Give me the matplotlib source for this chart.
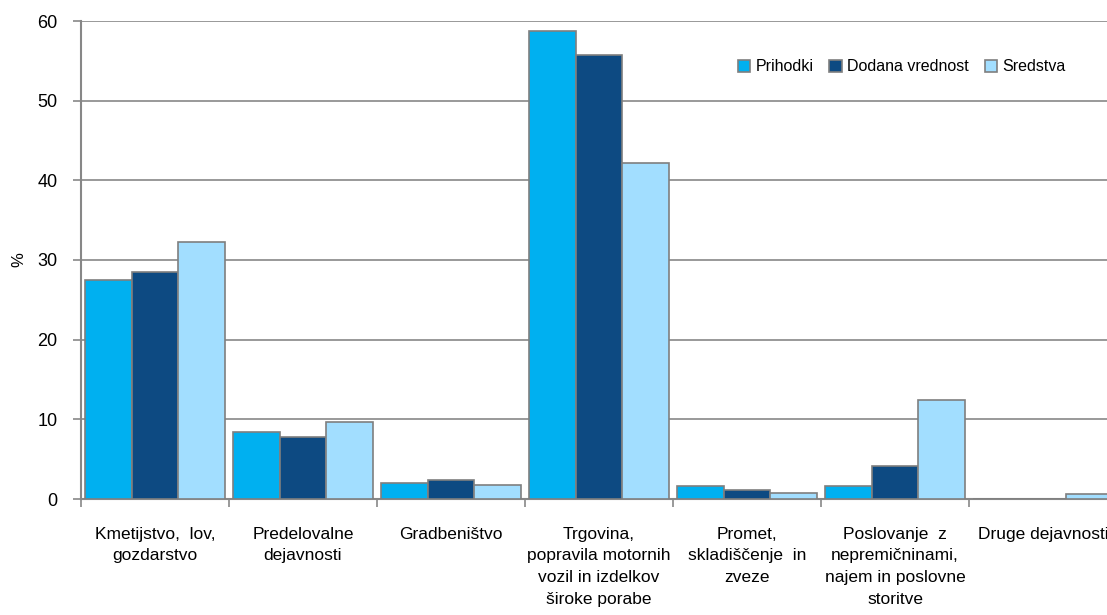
import numpy as np
import matplotlib
matplotlib.use("Agg")
import matplotlib.pyplot as plt

plt.rcParams["font.family"] = ["Liberation Sans", "DejaVu Sans"]

categories = [
    "Kmetijstvo,  lov,\ngozdarstvo",
    "Predelovalne\ndejavnosti",
    "Gradbeništvo",
    "Trgovina,\npopravila motornih\nvozil in izdelkov\nširoke porabe",
    "Promet,\nskladiščenje  in\nzveze",
    "Poslovanje  z\nnepremičninami,\nnajem in poslovne\nstoritve",
    "Druge dejavnosti",
]
prihodki = [27.5, 8.4, 2.0, 58.7, 1.6, 1.6, 0.0]
dodana = [28.5, 7.8, 2.4, 55.7, 1.1, 4.1, 0.0]
sredstva = [32.3, 9.7, 1.8, 42.2, 0.8, 12.4, 0.6]
series = [("Prihodki", prihodki, "#00B0F0"),
          ("Dodana vrednost", dodana, "#0D4A82"),
          ("Sredstva", sredstva, "#A2DEFF")]

GRID = "#878787"

fig = plt.figure(figsize=(11.07, 6.15), dpi=100)
ax = fig.add_axes([81 / 1107, 116 / 615, 1036 / 1107, 478 / 615])

x = np.arange(len(categories))
w = 0.315
for i, (name, vals, col) in enumerate(series):
    ax.bar(x + (i - 1) * w, vals, width=w, color=col, edgecolor="#7F7F7F",
           linewidth=1.2, label=name, zorder=3)

ax.set_xlim(-0.5, len(categories) - 0.5)
ax.set_ylim(0, 60)
ax.set_yticks(range(0, 61, 10))
ax.yaxis.grid(True, color=GRID, linewidth=1.2, zorder=0)
ax.set_axisbelow(True)
for s in ("top", "right"):
    ax.spines[s].set_visible(False)
for s in ("left", "bottom"):
    ax.spines[s].set_color(GRID)
    ax.spines[s].set_linewidth(1.5)

ax.set_xticks(x)
ax.set_xticklabels(categories, fontsize=12.5, linespacing=1.55, va="top")
ax.tick_params(axis="x", which="major", length=0, pad=20)
ax.set_xticks(np.arange(-0.5, len(categories), 1), minor=True)
ax.tick_params(axis="x", which="minor", length=6, color=GRID, width=1.2)
ax.tick_params(axis="y", length=6, color=GRID, width=1.2, labelsize=13, pad=11)

ax.set_ylabel("%", fontsize=12, labelpad=8)

ax.legend(loc="upper left", bbox_to_anchor=(0.62, 0.95), ncol=3, frameon=False,
          fontsize=11.5, handlelength=0.8, handleheight=0.8, handletextpad=0.3,
          columnspacing=1.0)

fig.savefig("out.png", dpi=100)
